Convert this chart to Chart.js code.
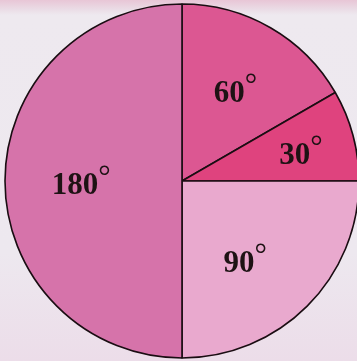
<!DOCTYPE html>
<html>
<head>
<meta charset="utf-8">
<script src="https://cdn.jsdelivr.net/npm/chart.js@4/dist/chart.umd.min.js"></script>
<style>
  html, body { margin: 0; padding: 0; overflow: hidden; }
  body {
    width: 357px; height: 361px;
    background: linear-gradient(to bottom, #e8c6d6 0px, #eadbe5 9px, #eee9ef 15px, #ede8ef 70%, #ecdde9 100%);
  }
  #wrap { position: absolute; left: 0; top: 0; width: 357px; height: 361px; }
</style>
</head>
<body>
<div id="wrap"><canvas id="pie"></canvas></div>
<script>
// Sector angles, in degrees, clockwise from twelve o'clock
const categories = ['A', 'B', 'C', 'D'];
const angles = [60, 30, 90, 180];
const sectorLabels = ['60', '30', '90', '180'];
const sectorColors = ['#dc5792', '#df437e', '#e9a9ce', '#d673aa'];

// Where each angle label sits: fraction of the radius, and a small turn (degrees) off the mid-line
const labelRadius = [0.585, 0.69, 0.58, 0.57];
const labelTurn = [1, 2, 7, -1.5];

// Writes each sector's angle inside it, with a raised degree mark
const angleLabels = {
  id: 'angleLabels',
  afterDatasetsDraw(chart) {
    const ctx = chart.ctx;
    const meta = chart.getDatasetMeta(0);
    const numFont = 'bold 31px "Liberation Serif", "Times New Roman", serif';
    const degFont = '31px "Liberation Serif", "Times New Roman", serif';
    ctx.save();
    ctx.fillStyle = '#1e1214';
    ctx.textBaseline = 'alphabetic';
    ctx.textAlign = 'left';
    meta.data.forEach((arc, i) => {
      const mid = (arc.startAngle + arc.endAngle) / 2 + labelTurn[i] * Math.PI / 180;
      const r = arc.outerRadius * labelRadius[i];
      const cx = arc.x + Math.cos(mid) * r;
      const cy = arc.y + Math.sin(mid) * r;
      const num = sectorLabels[i];
      ctx.font = numFont;
      const w = ctx.measureText(num).width;
      ctx.font = degFont;
      const dw = ctx.measureText('°').width;
      const x0 = cx - (w + dw) / 2;
      const base = cy + 10;
      ctx.font = numFont;
      ctx.fillText(num, x0, base);
      ctx.font = degFont;
      ctx.fillText('°', x0 + w, base - 7);
    });
    ctx.restore();
  }
};

new Chart(document.getElementById('pie'), {
  type: 'pie',
  data: {
    labels: categories,
    datasets: [{
      data: angles,
      backgroundColor: sectorColors,
      borderColor: '#1a0d12',
      borderWidth: 1.6,
      borderAlign: 'center'
    }]
  },
  options: {
    responsive: true,
    maintainAspectRatio: false,
    animation: false,
    radius: 177,
    layout: { padding: { left: 7, right: 0, top: 1, bottom: 0 } },
    plugins: {
      legend: { display: false },
      tooltip: { enabled: false }
    }
  },
  plugins: [angleLabels]
});
</script>
</body>
</html>
